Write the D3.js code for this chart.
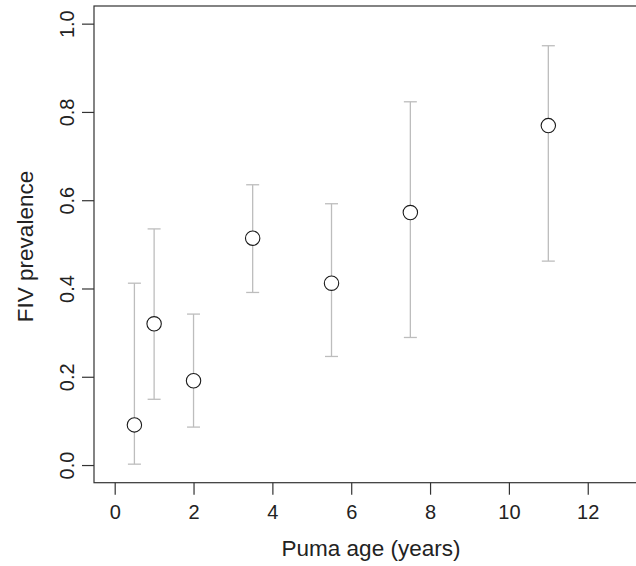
<!DOCTYPE html>
<html>
<head>
<meta charset="utf-8">
<script src="https://cdn.jsdelivr.net/npm/d3@7"></script>
<style>
  html, body { margin: 0; padding: 0; background: #fff; }
  svg { display: block; font-family: "Liberation Sans", Arial, Helvetica, sans-serif; }
</style>
</head>
<body>
<svg id="chart" width="636" height="566"></svg>
<script>
const ages = [0.5, 1, 2, 3.5, 5.5, 7.5, 11];
const prevalence = [0.091, 0.320, 0.191, 0.514, 0.412, 0.572, 0.769];
const lower = [0.002, 0.149, 0.086, 0.391, 0.246, 0.289, 0.462];
const upper = [0.412, 0.535, 0.342, 0.635, 0.592, 0.823, 0.950];
const xTicks = [0, 2, 4, 6, 8, 10, 12];
const yTicks = [0.0, 0.2, 0.4, 0.6, 0.8, 1.0];

const data = ages.map((a, i) => ({ age: a, p: prevalence[i], lo: lower[i], hi: upper[i] }));

const svg = d3.select("#chart");
const box = { left: 94, right: 652, top: 6, bottom: 482.7 };

const x = d3.scaleLinear().domain([-0.525, 13.63]).range([box.left, box.right]);
const y = d3.scaleLinear().domain([-0.04, 1.04]).range([box.bottom, box.top]);

const axisColor = "#333";
const textColor = "#222";

// box
svg.append("rect")
  .attr("x", box.left).attr("y", box.top)
  .attr("width", box.right - box.left).attr("height", box.bottom - box.top)
  .attr("fill", "none").attr("stroke", axisColor).attr("stroke-width", 1.2);

// x axis
const xAxis = d3.axisBottom(x).tickValues(xTicks).tickFormat(d3.format("d"))
  .tickSizeOuter(0).tickSizeInner(12).tickPadding(10);
const gx = svg.append("g").attr("transform", `translate(0,${box.bottom})`).call(xAxis);
gx.select(".domain").remove();
gx.selectAll(".tick line").attr("stroke", axisColor).attr("stroke-width", 1.2);
gx.selectAll(".tick text").attr("fill", textColor).style("font-size", "20px")
  .attr("font-family", null);

// y axis
const yAxis = d3.axisLeft(y).tickValues(yTicks).tickFormat(d3.format(".1f"))
  .tickSizeOuter(0).tickSizeInner(12).tickPadding(8);
const gy = svg.append("g").attr("transform", `translate(${box.left},0)`).call(yAxis);
gy.select(".domain").remove();
gy.selectAll(".tick line").attr("stroke", axisColor).attr("stroke-width", 1.2);
gy.selectAll(".tick text")
  .attr("fill", textColor).style("font-size", "20px").attr("font-family", null)
  .attr("x", null).attr("dy", null)
  .attr("text-anchor", "middle")
  .attr("transform", "translate(-20.5,0) rotate(-90)");

// error bars
const errColor = "#bdbdbd";
const capHalf = 6.5;
const eb = svg.append("g");
eb.selectAll("line.v").data(data).join("line").attr("class", "v")
  .attr("x1", d => x(d.age)).attr("x2", d => x(d.age))
  .attr("y1", d => y(d.lo)).attr("y2", d => y(d.hi))
  .attr("stroke", errColor).attr("stroke-width", 1.3);
eb.selectAll("line.top").data(data).join("line").attr("class", "top")
  .attr("x1", d => x(d.age) - capHalf).attr("x2", d => x(d.age) + capHalf)
  .attr("y1", d => y(d.hi)).attr("y2", d => y(d.hi))
  .attr("stroke", errColor).attr("stroke-width", 1.3);
eb.selectAll("line.bot").data(data).join("line").attr("class", "bot")
  .attr("x1", d => x(d.age) - capHalf).attr("x2", d => x(d.age) + capHalf)
  .attr("y1", d => y(d.lo)).attr("y2", d => y(d.lo))
  .attr("stroke", errColor).attr("stroke-width", 1.3);

// points
svg.append("g").selectAll("circle").data(data).join("circle")
  .attr("cx", d => x(d.age)).attr("cy", d => y(d.p)).attr("r", 7.2)
  .attr("fill", "#fff").attr("stroke", "#1a1a1a").attr("stroke-width", 1.1);

// axis titles
svg.append("text")
  .attr("x", 371).attr("y", 556)
  .attr("text-anchor", "middle").attr("fill", textColor).style("font-size", "22.5px")
  .text("Puma age (years)");
svg.append("text")
  .attr("transform", "translate(32.5,246.5) rotate(-90)")
  .attr("text-anchor", "middle").attr("fill", textColor).style("font-size", "22.5px")
  .text("FIV prevalence");
</script>
</body>
</html>
